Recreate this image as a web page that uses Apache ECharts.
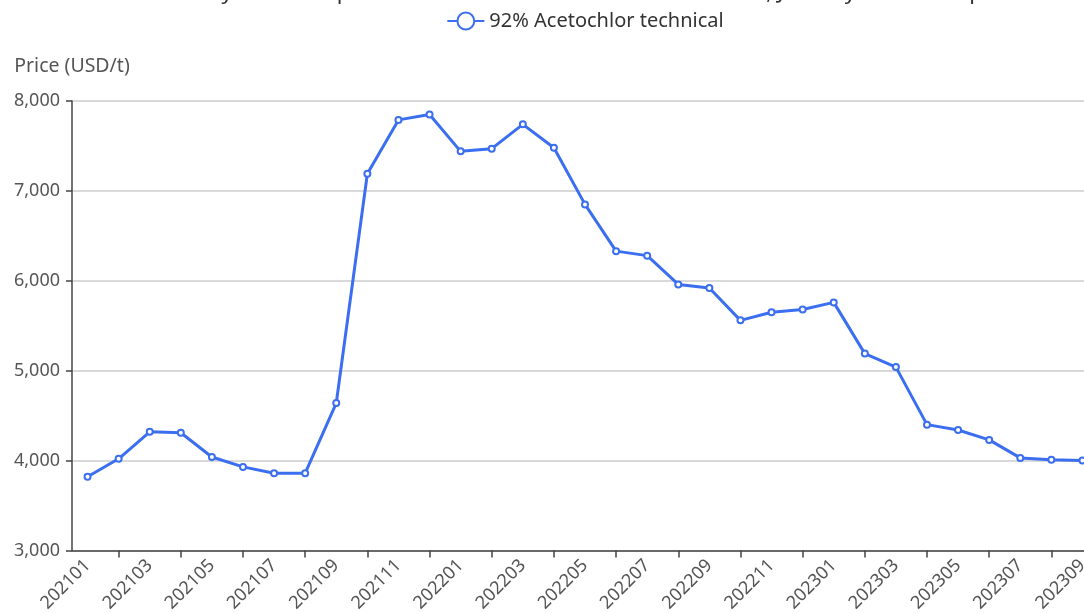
<!DOCTYPE html>
<html>
<head>
<meta charset="utf-8">
<title>92% Acetochlor technical price</title>
<script src="https://cdn.jsdelivr.net/npm/echarts@6/dist/echarts.min.js"></script>
<style>
  html, body { margin: 0; padding: 0; overflow: hidden; background: #fff; }
  #chart { width: 1170px; height: 660px; }
</style>
</head>
<body>
<div id="chart"></div>
<script>
// 月份 (x 轴类目)
var months = [
  '202101', '202102', '202103', '202104', '202105', '202106', '202107', '202108', '202109', '202110', '202111', '202112',
  '202201', '202202', '202203', '202204', '202205', '202206', '202207', '202208', '202209', '202210', '202211', '202212',
  '202301', '202302', '202303', '202304', '202305', '202306', '202307', '202308', '202309'
]

// 价格 USD/t
var acetochlorPrice = [
  3820, 4020, 4320, 4310, 4040, 3930, 3860, 3860, 4640, 7190, 7790, 7850,
  7440, 7470, 7740, 7480, 6850, 6330, 6280, 5960, 5920, 5560, 5650, 5680,
  5760, 5190, 5040, 4400, 4340, 4230, 4030, 4010, 4000
]

var seriesName = '92% Acetochlor technical'
var titleText = 'Trend of monthly ex-works price of 92% acetochlor technical in China, January 2021 to September 2023'

var fontFamily = "'Noto Sans', sans-serif"
var lineColor = '#3b6ff0'

// 刻度只画在偶数月份（索引为奇数）
var tickIndexes = []
months.forEach(function(m, i) {
  if (i % 2 === 1) tickIndexes.push(i)
})

var myChart = echarts.init(document.getElementById('chart'))

var option = {
  textStyle: { fontFamily: fontFamily },
  title: {
    text: titleText,
    left: 'center',
    top: -23,
    textStyle: { fontSize: 22, fontWeight: 'normal', color: '#333', fontFamily: fontFamily }
  },
  legend: {
    data: [seriesName],
    top: 6,
    left: 'center',
    itemWidth: 37,
    itemHeight: 21,
    itemGap: 10,
    textStyle: { fontSize: 20, color: '#333' }
  },
  grid: {
    left: 72,
    right: 72,
    top: 101,
    height: 449.5
  },
  xAxis: {
    type: 'category',
    data: months,
    boundaryGap: true,
    axisLine: { show: true, lineStyle: { color: '#444', width: 1.5 } },
    axisTick: {
      show: true,
      alignWithLabel: true,
      length: 7,
      interval: 0,
      customValues: tickIndexes,
      lineStyle: { color: '#444', width: 1.5 }
    },
    axisLabel: {
      interval: 1,
      rotate: 45,
      margin: 12,
      fontSize: 18,
      color: '#555'
    }
  },
  yAxis: {
    type: 'value',
    name: 'Price (USD/t)',
    nameGap: 25,
    nameTextStyle: { fontSize: 19.5, color: '#555' },
    min: 3000,
    max: 8000,
    interval: 1000,
    axisLine: { show: true, lineStyle: { color: '#444', width: 1.5 } },
    axisTick: { show: true, length: 6, lineStyle: { color: '#444', width: 1.5 } },
    axisLabel: {
      margin: 12,
      fontSize: 18,
      color: '#555',
      formatter: function(v) {
        return v.toLocaleString('en-US')
      }
    },
    splitLine: { lineStyle: { color: '#ccc', width: 1.5 } }
  },
  series: [
    {
      name: seriesName,
      type: 'line',
      data: acetochlorPrice,
      symbol: 'emptyCircle',
      symbolSize: 6,
      lineStyle: { color: lineColor, width: 3 },
      itemStyle: { color: lineColor, borderWidth: 1.5 }
    }
  ]
}

myChart.setOption(option)
</script>
</body>
</html>
